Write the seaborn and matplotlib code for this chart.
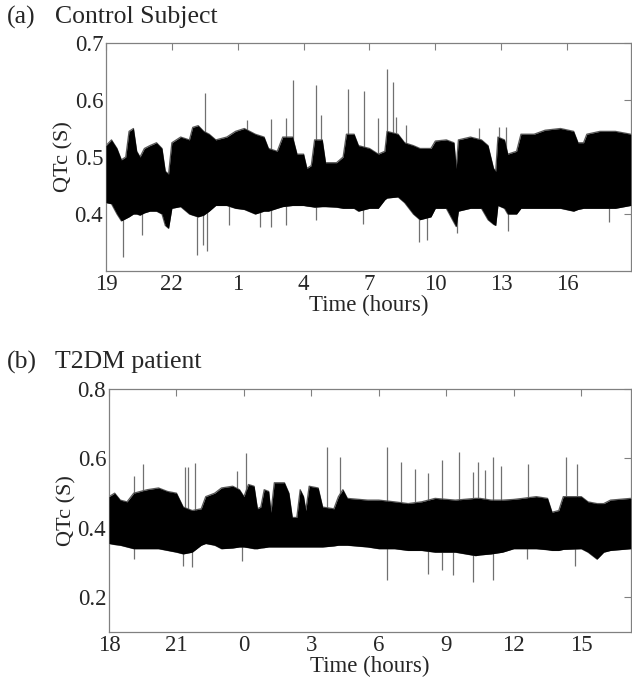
import numpy as np
import pandas as pd
import matplotlib
matplotlib.use("Agg")
import matplotlib.pyplot as plt
import seaborn as sns

# (a) Control subject: envelope of the QTc trace, hours since 19:00
t_a = [0.0, 0.25, 0.5, 0.7, 0.9, 1.05, 1.25, 1.4, 1.55, 1.75, 2.0, 2.3, 2.55, 2.7, 2.85,
       3.0, 3.4, 3.8, 3.95, 4.2, 4.45, 4.7, 5.0, 5.5, 5.9, 6.3, 6.8, 7.2, 7.4, 7.8,
       8.05, 8.5, 8.7, 9.0, 9.15, 9.35, 9.5, 9.85, 10.0, 10.5, 10.8, 10.95, 11.3, 11.5,
       12.0, 12.4, 12.7, 12.8, 13.3, 13.6, 14.0, 14.3, 14.8, 15.0, 15.5, 15.85, 15.95,
       16.05, 16.6, 17.1, 17.4, 17.65, 17.75, 17.85, 18.15, 18.3, 18.7, 18.9, 19.5,
       20.0, 20.7, 21.3, 21.5, 21.75, 21.9, 22.5, 23.2, 23.9]
up_a = [0.52, 0.53, 0.515, 0.495, 0.50, 0.545, 0.55, 0.51, 0.50, 0.515, 0.52, 0.525, 0.515, 0.475, 0.47,
        0.525, 0.535, 0.53, 0.552, 0.555, 0.545, 0.54, 0.53, 0.535, 0.545, 0.55, 0.54, 0.535, 0.515, 0.51,
        0.535, 0.535, 0.505, 0.505, 0.48, 0.485, 0.53, 0.53, 0.49, 0.49, 0.50, 0.54, 0.54, 0.52,
        0.515, 0.505, 0.51, 0.545, 0.54, 0.525, 0.52, 0.515, 0.515, 0.528, 0.53, 0.525, 0.48,
        0.53, 0.535, 0.53, 0.52, 0.48, 0.475, 0.535, 0.53, 0.505, 0.51, 0.54, 0.54,
        0.547, 0.55, 0.545, 0.525, 0.525, 0.54, 0.545, 0.545, 0.54]
lo_a = [0.42, 0.418, 0.40, 0.388, 0.392, 0.395, 0.40, 0.40, 0.398, 0.402, 0.405, 0.405, 0.40, 0.38, 0.375,
        0.41, 0.413, 0.40, 0.398, 0.395, 0.398, 0.405, 0.415, 0.415, 0.41, 0.408, 0.40, 0.405, 0.405, 0.41,
        0.413, 0.415, 0.415, 0.415, 0.414, 0.413, 0.412, 0.413, 0.413, 0.412, 0.41, 0.41, 0.41, 0.405,
        0.41, 0.41, 0.425, 0.428, 0.43, 0.42, 0.40, 0.39, 0.395, 0.41, 0.41, 0.385, 0.378,
        0.405, 0.41, 0.41, 0.39, 0.382, 0.38, 0.415, 0.41, 0.40, 0.40, 0.41, 0.41,
        0.41, 0.41, 0.405, 0.408, 0.41, 0.41, 0.41, 0.41, 0.415]
spike_t_a = [0.79, 1.62, 4.15, 4.4, 4.58, 5.59, 4.5, 6.4, 7.0, 7.5, 7.5, 8.2, 8.2, 8.5, 9.55, 9.55,
             9.8, 11.0, 11.7, 11.76, 12.4, 12.78, 13.05, 13.2, 13.65, 14.25, 14.6, 15.97, 16.99,
             17.9, 18.2, 18.3, 22.9]
spike_v_a = [0.325, 0.363, 0.328, 0.346, 0.336, 0.38, 0.613, 0.565, 0.378, 0.566, 0.378, 0.568, 0.381,
             0.635, 0.626, 0.39, 0.574, 0.62, 0.383, 0.615, 0.568, 0.654, 0.632, 0.57, 0.556, 0.351,
             0.354, 0.367, 0.55, 0.553, 0.553, 0.37, 0.386]
ticks_a = [0, 3, 6, 9, 12, 15, 18, 21]
labels_a = ["19", "22", "1", "4", "7", "10", "13", "16"]

# (b) T2DM patient, hours since 18:00
t_b = [0.0, 0.25, 0.5, 0.8, 1.1, 1.4, 1.7, 2.2, 2.6, 3.0, 3.3, 3.7, 4.1, 4.3, 4.7, 5.0, 5.5, 5.8,
       6.0, 6.2, 6.45, 6.6, 6.75, 6.9, 7.1, 7.2, 7.35, 7.8, 8.0, 8.15, 8.35, 8.5, 8.65, 8.75,
       8.9, 9.3, 9.5, 10.0, 10.2, 10.4, 10.6, 11.5, 12.0, 12.7, 13.3, 13.9, 14.5, 15.4, 16.3,
       16.5, 17.0, 17.5, 18.0, 18.4, 19.0, 19.5, 19.7, 20.0, 20.2, 21.0, 21.3, 21.7, 22.0,
       22.3, 23.2]
up_b = [0.49, 0.50, 0.48, 0.475, 0.50, 0.505, 0.51, 0.515, 0.505, 0.50, 0.46, 0.45, 0.455, 0.49, 0.50,
        0.515, 0.52, 0.51, 0.49, 0.525, 0.52, 0.455, 0.46, 0.51, 0.505, 0.445, 0.53, 0.53, 0.50, 0.43,
        0.43, 0.51, 0.49, 0.45, 0.52, 0.515, 0.46, 0.455, 0.49, 0.51, 0.485, 0.48, 0.48, 0.475, 0.47,
        0.475, 0.485, 0.48, 0.485, 0.485, 0.48, 0.48, 0.482, 0.485, 0.49, 0.485, 0.445, 0.45, 0.49,
        0.49, 0.475, 0.47, 0.47, 0.48, 0.485]
lo_b = [0.355, 0.352, 0.35, 0.345, 0.34, 0.34, 0.34, 0.34, 0.335, 0.33, 0.325, 0.33, 0.35, 0.355, 0.35,
        0.34, 0.342, 0.345, 0.345, 0.343, 0.34, 0.34, 0.342, 0.343, 0.345, 0.345, 0.345, 0.345, 0.345,
        0.345, 0.345, 0.345, 0.345, 0.345, 0.345, 0.345, 0.345, 0.348, 0.35, 0.35, 0.35, 0.345, 0.34,
        0.34, 0.335, 0.335, 0.33, 0.33, 0.32, 0.322, 0.325, 0.33, 0.34, 0.34, 0.34, 0.337, 0.335, 0.335,
        0.338, 0.34, 0.33, 0.31, 0.33, 0.335, 0.34]
spike_t_b = [1.1, 1.13, 1.5, 3.3, 3.4, 3.5, 3.7, 3.84, 5.7, 5.93, 6.08, 9.7, 10.28, 12.38, 12.38, 13.0,
             13.6, 14.2, 14.2, 14.8, 14.8, 15.3, 15.55, 16.2, 16.2, 16.4, 16.7, 17.06, 17.06, 17.45,
             18.6, 18.64, 20.3, 20.7, 20.8]
spike_v_b = [0.31, 0.55, 0.583, 0.29, 0.574, 0.576, 0.287, 0.588, 0.565, 0.304, 0.616, 0.633, 0.604,
             0.633, 0.25, 0.59, 0.57, 0.558, 0.268, 0.595, 0.28, 0.265, 0.618, 0.562, 0.243, 0.59, 0.567,
             0.603, 0.25, 0.578, 0.31, 0.585, 0.605, 0.29, 0.585]
ticks_b = [0, 3, 6, 9, 12, 15, 18, 21]
labels_b = ["18", "21", "0", "3", "6", "9", "12", "15"]

sns.set_style("white")
plt.rcParams["font.family"] = ["Liberation Serif", "DejaVu Serif"]

fig = plt.figure(figsize=(6.32, 6.82), dpi=100)
ax_a = fig.add_axes([0.1677, 0.6026, 0.8303, 0.3344])
ax_b = fig.add_axes([0.1725, 0.0733, 0.8255, 0.3563])


def draw_panel(ax, t, up, lo, st, sv, base, xmax, ylim, yticks, xt, xl):
    df = pd.DataFrame({"t": t, "up": up, "lo": lo})
    ax.vlines(st, base, sv, color="#707070", lw=0.9, zorder=1)
    ax.fill_between(df["t"], df["lo"], df["up"], color="black", lw=0, zorder=3)
    sns.lineplot(data=df, x="t", y="up", ax=ax, color="#5a5a5a", lw=0.9, zorder=2)
    sns.lineplot(data=df, x="t", y="lo", ax=ax, color="#5a5a5a", lw=0.9, zorder=2)
    ax.set_xlim(0, xmax)
    ax.set_ylim(*ylim)
    ax.set_yticks(yticks)
    ax.set_yticklabels([f"{v:.1f}" for v in yticks])
    ax.set_xticks(xt)
    ax.set_xticklabels(xl)
    ax.set_xlabel("Time (hours)", fontsize=16.5, labelpad=0)
    ax.set_ylabel("QTc (S)", fontsize=16, labelpad=1)
    ax.tick_params(direction="in", top=True, right=True, length=5, width=0.8,
                   color="#808080", labelsize=16.5, pad=2)
    for s in ax.spines.values():
        s.set_color("#808080")
        s.set_linewidth(0.9)


draw_panel(ax_a, t_a, up_a, lo_a, spike_t_a, spike_v_a, 0.46, 23.9, (0.3, 0.7),
           [0.4, 0.5, 0.6, 0.7], ticks_a, labels_a)
draw_panel(ax_b, t_b, up_b, lo_b, spike_t_b, spike_v_b, 0.41, 23.2, (0.1, 0.8),
           [0.2, 0.4, 0.6, 0.8], ticks_b, labels_b)

fig.text(0.011, 0.975, "(a)", fontsize=18.5, va="center")
fig.text(0.087, 0.975, "Control Subject", fontsize=18.5, va="center")
fig.text(0.011, 0.469, "(b)", fontsize=18.5, va="center")
fig.text(0.087, 0.469, "T2DM patient", fontsize=18.5, va="center")

fig.savefig("out.png", dpi=100)
